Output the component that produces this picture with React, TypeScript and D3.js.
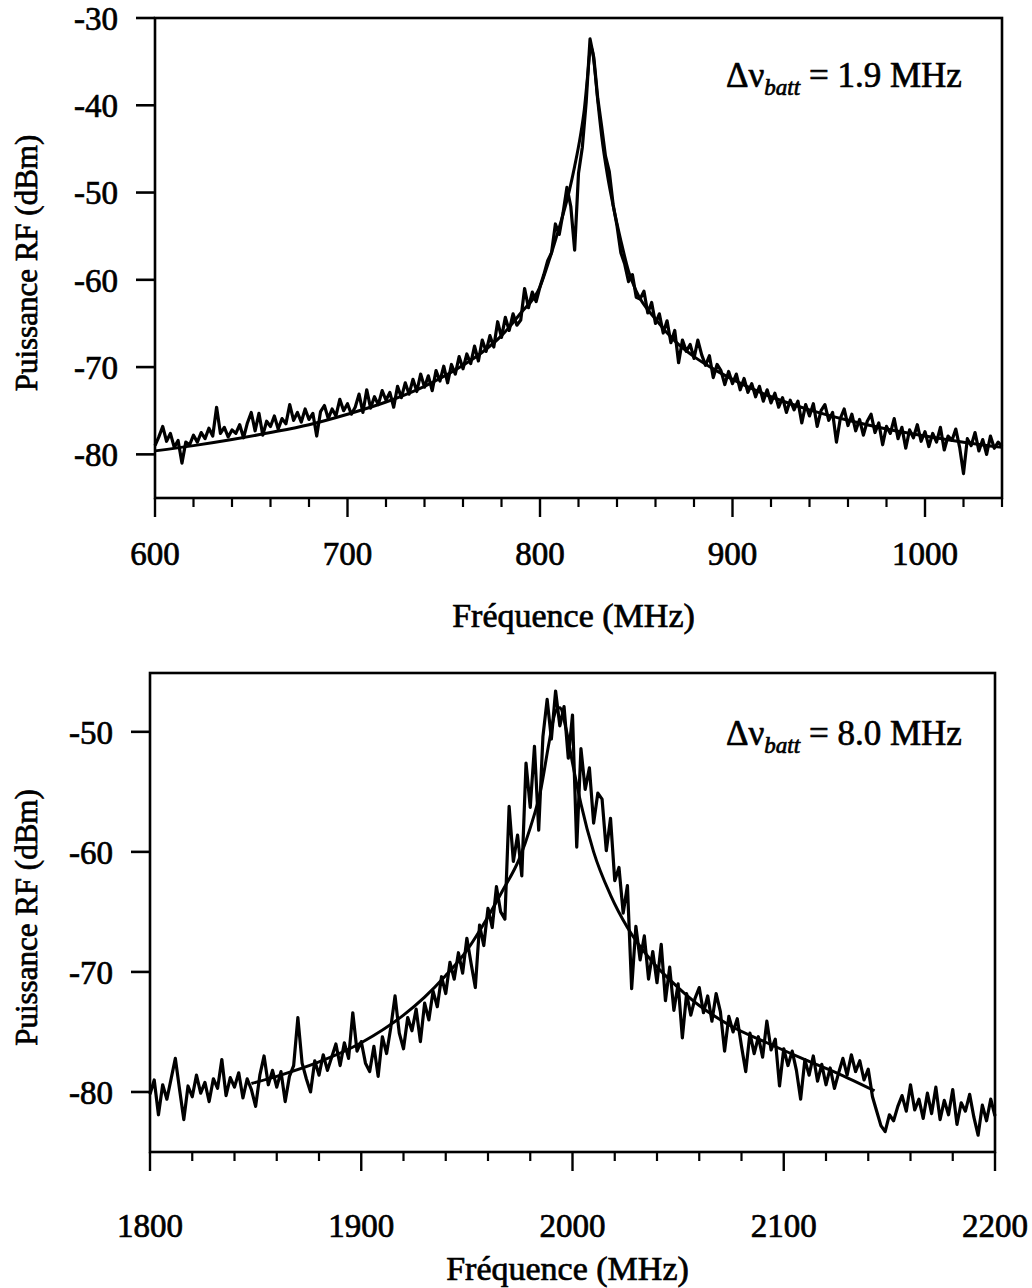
import React from "react";
import * as d3 from "d3";

// ---------- DATA ----------
const topStart = 600;
const topStep = 2;
const topTrace = [
  -79.0, -78.0, -76.8, -78.5, -77.6, -79.2, -78.4, -81.0, -78.6, -78.9,
  -77.8, -78.6, -77.5, -78.2, -77.0, -77.9, -74.6, -77.6, -76.9, -78.0,
  -77.2, -77.6, -76.6, -78.1, -76.4, -75.2, -77.3, -75.3, -77.8, -76.2,
  -76.8, -75.6, -77.1, -75.9, -76.5, -74.3, -76.1, -75.2, -76.3, -74.8,
  -76.0, -75.3, -77.9, -75.1, -74.4, -75.9, -74.8, -75.6, -73.7, -75.0,
  -74.2, -75.4, -74.6, -73.1, -75.2, -72.6, -74.7, -73.4, -74.3, -72.7,
  -73.8, -72.9, -74.6, -72.2, -73.5, -71.8, -73.1, -71.4, -72.8, -70.8,
  -72.3, -71.0, -72.7, -70.4, -71.6, -69.9, -71.8, -69.7, -70.8, -68.8,
  -70.2, -68.5, -69.6, -67.6, -69.3, -66.9, -68.2, -66.4, -67.7, -64.8,
  -66.6, -64.3, -65.8, -63.9, -65.2, -64.6, -61.0, -63.2, -61.4, -62.5,
  -60.8, -59.4, -57.8, -56.9, -53.6, -54.8, -52.3, -49.4, -51.6, -56.6,
  -47.8, -44.8, -39.6, -32.4, -34.6, -39.2, -42.4, -45.8, -47.6, -51.4,
  -53.8, -56.9, -58.2, -60.2, -59.4, -62.0, -62.2, -61.3, -63.8, -62.6,
  -65.0, -63.9, -66.1, -64.7, -67.2, -65.8, -69.5, -66.9, -68.2, -67.4,
  -69.0, -66.9, -68.6, -69.8, -68.7, -71.2, -69.7, -70.4, -72.0, -70.5,
  -71.9, -70.8, -72.6, -71.3, -72.9, -71.9, -73.4, -72.2, -73.9, -72.6,
  -74.1, -73.0, -74.6, -73.5, -75.2, -73.8, -74.9, -73.9, -76.4, -74.3,
  -75.6, -74.2, -76.8, -75.0, -74.3, -76.1, -75.2, -78.6, -75.9, -74.8,
  -76.7, -75.4, -77.3, -76.0, -77.8, -76.2, -75.4, -77.5, -76.4, -78.9,
  -76.8, -77.6, -75.9, -78.2, -76.9, -79.3, -77.2, -78.1, -76.6, -78.5,
  -77.4, -79.1, -77.6, -78.6, -76.9, -79.5, -77.9, -78.4, -77.1, -79.2,
  -82.2, -78.2, -79.0, -77.5, -79.6, -78.3, -80.0, -77.9, -79.3, -78.6,
  -79.1,
];
const topFitFreq = [
  600, 620, 640, 660, 680, 700, 720, 740, 760, 770, 780, 790, 800, 805, 810,
  815, 818, 821, 823, 825, 826, 827, 828, 830, 832, 835, 838, 842, 846, 850,
  860, 870, 880, 890, 900, 920, 940, 960, 980, 1000, 1020, 1040,
];
const topFitVal = [
  -79.6, -79.0, -78.3, -77.5, -76.6, -75.4, -74.0, -72.2, -69.8, -68.3, -66.4,
  -63.8, -60.8, -57.6, -54.0, -50.0, -47.0, -43.5, -40.5, -36.0, -33.8, -33.5,
  -35.0, -39.5, -43.5, -48.0, -51.5, -55.5, -59.0, -61.3, -64.5, -67.0, -68.8,
  -70.2, -71.4, -73.4, -74.9, -76.1, -77.1, -77.9, -78.6, -79.2,
];
const topXTicks = [600, 700, 800, 900, 1000];
const topYTicks = [-30, -40, -50, -60, -70, -80];

const botStart = 1800;
const botStep = 2;
const botTrace = [
  -80.2, -79.0, -81.9, -79.4, -80.6, -78.9, -77.2, -79.8, -82.3, -79.5,
  -80.4, -78.6, -80.1, -79.2, -80.8, -78.9, -79.7, -77.3, -80.3, -78.8,
  -79.6, -78.4, -80.5, -78.9, -79.8, -81.2, -78.6, -77.0, -79.4, -78.2,
  -79.6, -78.3, -80.8, -78.7, -77.8, -73.8, -77.6, -78.9, -80.0, -77.4,
  -78.6, -76.9, -78.2, -77.1, -76.0, -77.8, -75.9, -77.2, -73.4, -76.6,
  -75.8, -77.6, -78.3, -76.2, -78.7, -75.4, -76.8, -74.6, -72.0, -75.1,
  -76.4, -73.8, -74.9, -73.1, -75.8, -72.6, -74.0, -71.6, -72.9, -70.4,
  -71.8, -69.2, -70.6, -68.4, -70.1, -67.2, -69.3, -71.3, -66.1, -67.8,
  -64.7, -66.3, -62.9, -65.0, -65.6, -56.2, -60.8, -58.6, -62.0, -52.6,
  -56.3, -51.2, -58.2, -50.4, -47.3, -50.6, -46.6, -49.5, -47.9, -52.2,
  -48.6, -59.6, -51.4, -54.8, -53.0, -57.6, -55.1, -55.6, -59.9, -57.2,
  -62.4, -61.3, -65.1, -62.8, -71.4, -66.2, -69.0, -67.0, -70.6, -68.3,
  -70.9, -67.7, -72.4, -69.6, -73.2, -71.0, -75.5, -71.8, -73.6, -72.2,
  -71.3, -73.4, -72.0, -74.1, -71.8, -73.3, -76.6, -73.7, -75.0, -73.9,
  -76.2, -78.3, -75.1, -76.8, -75.4, -77.1, -74.1, -76.5, -75.6, -79.5,
  -76.4, -77.8, -76.6, -78.2, -80.6, -77.3, -78.6, -77.0, -79.1, -77.7,
  -79.4, -78.0, -79.7, -78.4, -77.2, -78.6, -76.9, -78.3, -77.4, -79.0,
  -78.1, -80.4, -81.6, -82.8, -83.3, -81.9, -82.4, -81.2, -80.3, -81.6,
  -79.4, -81.5, -80.6, -82.2, -80.1, -81.8, -79.6, -82.3, -80.7, -81.9,
  -79.8, -82.7, -80.9, -81.6, -80.2, -82.1, -83.6, -81.1, -82.4, -80.6,
  -82.0,
];
const botFitFreq = [
  1848, 1860, 1880, 1900, 1920, 1930, 1940, 1950, 1960, 1967, 1975, 1980, 1985,
  1989, 1992, 1994, 1997, 2000, 2004, 2010, 2018, 2026, 2038, 2050, 2060, 2075,
  2092, 2110, 2125, 2143,
];
const botFitVal = [
  -79.3, -78.7, -77.5, -75.9, -73.6, -72.1, -70.3, -68.2, -65.4, -63.2, -60.5,
  -58.0, -54.8, -50.8, -48.3, -48.0, -49.8, -52.6, -56.0, -60.0, -63.6, -66.3,
  -69.2, -71.3, -72.8, -74.5, -75.9, -77.3, -78.4, -79.9,
];
const botXTicks = [1800, 1900, 2000, 2100, 2200];
const botYTicks = [-50, -60, -70, -80];

const yTitle = "Puissance RF (dBm)";
const xTitle = "Fréquence (MHz)";

const FONT = "Liberation Serif, Times New Roman, Tinos, serif";

type PanelProps = {
  xDomain: [number, number];
  xRange: [number, number];
  yDomain: [number, number];
  yRange: [number, number];
  xTicks: number[];
  yTicks: number[];
  start: number;
  step: number;
  trace: number[];
  fitF: number[];
  fitV: number[];
  note: string;
  noteX: number;
  noteY: number;
  tickLabelDy: number;
  titleDy: number;
};

function Panel(p: PanelProps) {
  const x = d3.scaleLinear().domain(p.xDomain).range(p.xRange);
  const y = d3.scaleLinear().domain(p.yDomain).range(p.yRange);
  const [x0, x1] = p.xRange;
  const [yb, yt] = p.yRange;
  const pts: [number, number][] = p.trace.map((v, i) => [p.start + i * p.step, v]);
  const line = d3
    .line<[number, number]>()
    .x((d) => x(d[0]))
    .y((d) => y(d[1]));
  const fitPts: [number, number][] = p.fitF.map((f, i) => [f, p.fitV[i]]);
  const fitLine = d3
    .line<[number, number]>()
    .x((d) => x(d[0]))
    .y((d) => y(d[1]))
    .curve(d3.curveMonotoneX);
  const minor = d3.range(p.xDomain[0], p.xDomain[1] + 0.001, 20).filter((v) => v % 100 !== 0);
  const ts = { fill: "#000", stroke: "#000", strokeWidth: 0.7 } as any;
  return (
    <g fontFamily={FONT}>
      <path d={line(pts) || ""} fill="none" stroke="#000" strokeWidth={3.2} strokeLinejoin="round" />
      <path d={fitLine(fitPts) || ""} fill="none" stroke="#000" strokeWidth={3} />
      <rect x={x0} y={yt} width={x1 - x0} height={yb - yt} fill="none" stroke="#000" strokeWidth={2.6} />
      {p.yTicks.map((t) => (
        <g key={"y" + t}>
          <line x1={x0 - 19} x2={x0} y1={y(t)} y2={y(t)} stroke="#000" strokeWidth={2.6} />
          <text x={x0 - 37} y={y(t)} dy="0.36em" textAnchor="end" fontSize={33} {...ts}>
            {String(t)}
          </text>
        </g>
      ))}
      {p.xTicks.map((t) => (
        <g key={"x" + t}>
          <line x1={x(t)} x2={x(t)} y1={yb} y2={yb + 19} stroke="#000" strokeWidth={2.4} />
          <text x={x(t)} y={yb + p.tickLabelDy} dy="0.36em" textAnchor="middle" fontSize={33} {...ts}>
            {String(t)}
          </text>
        </g>
      ))}
      {minor.map((t) => (
        <line key={"m" + t} x1={x(t)} x2={x(t)} y1={yb} y2={yb + 9} stroke="#000" strokeWidth={2.2} />
      ))}
      <text
        x={(x0 + x1) / 2 - 5}
        y={yb + p.titleDy}
        dy="0.36em"
        textAnchor="middle"
        fontSize={34}
        {...ts}
      >
        {xTitle}
      </text>
      <text
        transform={`translate(26, ${(yb + yt) / 2 + 5}) rotate(-90)`}
        dy="0.36em"
        textAnchor="middle"
        fontSize={31}
        {...ts}
      >
        {yTitle}
      </text>
      <text x={p.noteX} y={p.noteY} fontSize={35} {...ts}>
        <tspan>Δν</tspan>
        <tspan fontSize={23} fontStyle="italic" dy="8">batt</tspan>
        <tspan dy="-8"> = {p.note} MHz</tspan>
      </text>
    </g>
  );
}

export default function App() {
  return (
    <svg width={1032} height={1288} style={{ position: "absolute", left: 0, top: 0, background: "#fff" }}>
      <rect x={0} y={0} width={1032} height={1288} fill="#fff" />
      <Panel
        xDomain={[600, 1040]}
        xRange={[155, 1002]}
        yDomain={[-85, -30]}
        yRange={[498, 18]}
        xTicks={topXTicks}
        yTicks={topYTicks}
        start={topStart}
        step={topStep}
        trace={topTrace}
        fitF={topFitFreq}
        fitV={topFitVal}
        note="1.9"
        noteX={726}
        noteY={87}
        tickLabelDy={55}
        titleDy={117}
      />
      <Panel
        xDomain={[1800, 2200]}
        xRange={[150, 995]}
        yDomain={[-85, -45.1]}
        yRange={[1152, 673]}
        xTicks={botXTicks}
        yTicks={botYTicks}
        start={botStart}
        step={botStep}
        trace={botTrace}
        fitF={botFitFreq}
        fitV={botFitVal}
        note="8.0"
        noteX={726}
        noteY={745}
        tickLabelDy={73}
        titleDy={116}
      />
    </svg>
  );
}
